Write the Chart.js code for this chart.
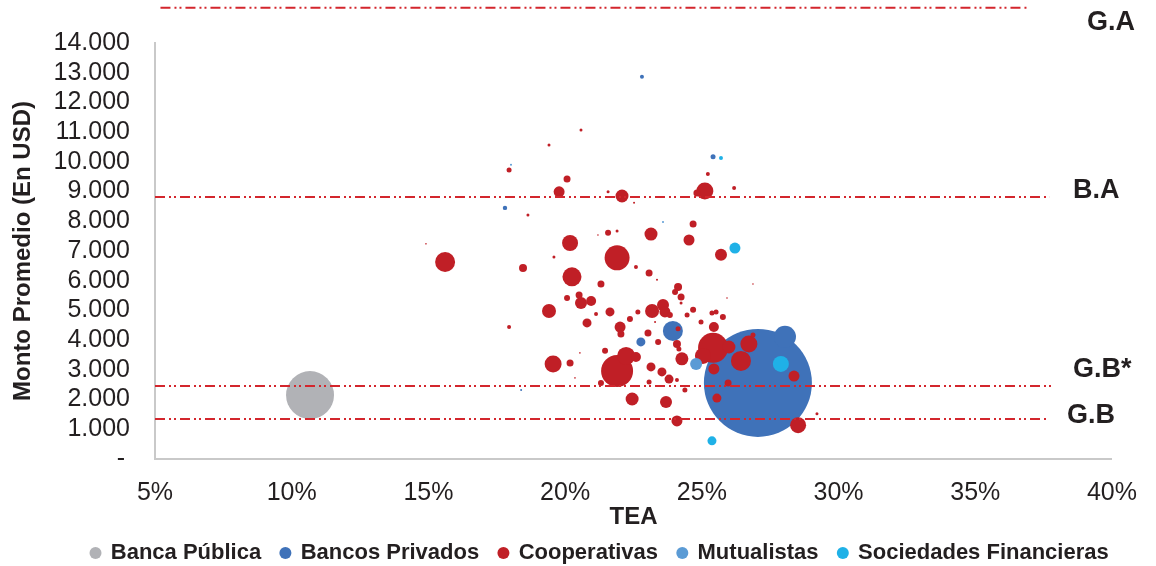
<!DOCTYPE html>
<html lang="es">
<head>
<meta charset="utf-8">
<title>TEA vs Monto Promedio</title>
<script src="https://cdn.jsdelivr.net/npm/chart.js@4.4.1/dist/chart.umd.min.js"></script>
<style>
  html, body { margin: 0; padding: 0; background: #ffffff; }
  #wrap { width: 1156px; height: 566px; }
</style>
</head>
<body>
<div id="wrap"><canvas id="grafico" width="1156" height="566"></canvas></div>
<script>
// Segmentos del sistema financiero
const segmentos = ['Banca Pública', 'Bancos Privados', 'Cooperativas', 'Mutualistas', 'Sociedades Financieras'];

// Banca Pública: TEA (%), monto promedio (USD), tamaño de burbuja
const publicaTEA   = [10.67];
const publicaMonto = [2150];
const publicaTam   = [24];

// Bancos Privados
const privadosTEA   = [27.05, 28.04, 23.94, 22.77, 22.81, 25.41, 17.80, 18.39];
const privadosMonto = [2560, 4110, 4310, 3940, 12860, 10170, 8450, 2320];
const privadosTam   = [54, 11, 10, 4.5, 2, 2.5, 2.2, 1];

// Cooperativas
const coopTEA = [
  20.58, 19.41, 17.95, 20.07, 19.78, 21.57, 22.08, 22.52, 18.64, 21.57,
  21.90, 21.20, 23.14, 20.18, 21.90, 19.59, 25.22, 25.11, 24.82, 26.18,
  24.68, 24.53, 25.70, 15.61, 14.91, 18.46, 20.25, 21.31, 22.59, 23.07,
  23.36, 20.07, 20.51, 20.58, 20.95, 19.41, 21.13, 21.64, 20.80, 17.95,
  22.01, 22.04, 22.37, 22.66, 23.18, 23.58, 23.65, 23.83, 24.13, 24.02,
  24.24, 24.24, 24.68, 24.46, 24.97, 25.37, 25.52, 25.77, 25.44, 23.03,
  23.40, 23.29, 21.46, 20.54, 19.56, 20.18, 21.90, 22.23, 22.59, 23.14,
  23.54, 23.80, 24.09, 21.31, 23.07, 22.45, 23.69, 24.38, 24.09, 24.27,
  24.13, 24.09, 24.16, 25.41, 25.04, 25.99, 26.72, 26.87, 26.43, 25.44,
  25.96, 25.55, 28.37, 28.52, 29.21, 26.87, 25.92, 20.36
];
const coopMonto = [
  11070, 10570, 9730, 9420, 8990, 8990, 8850, 8620, 8210, 7610,
  7670, 7540, 7570, 7270, 6770, 6800, 9590, 9020, 8950, 9120,
  7910, 7370, 6870, 6630, 7240, 6430, 6130, 5890, 6460, 6260,
  6030, 5420, 5520, 5250, 5320, 4980, 4880, 4950, 4580, 4440,
  4440, 4210, 4710, 4950, 4980, 5180, 4950, 4850, 5790, 5620,
  5450, 5250, 5020, 4850, 4610, 4910, 4950, 4780, 4440, 4240,
  3940, 4610, 3640, 3570, 3200, 3230, 2960, 3470, 3430, 3100,
  2930, 2690, 2660, 2560, 2590, 2020, 1920, 2320, 1280, 3370,
  4380, 3870, 3700, 3740, 3470, 3770, 3870, 4170, 3300, 3030,
  2560, 2050, 2790, 1140, 1520, 5890, 5420, 2730
];
const coopTam = [
  1.5, 1.5, 2.5, 3.5, 5.5, 1.5, 6.5, 1, 1.5, 3,
  1.5, 0.8, 6.5, 8, 12.5, 1.5, 2, 8.5, 3.5, 2,
  3.5, 5.5, 6, 10, 0.8, 4, 9.5, 3.5, 2, 3.5,
  1, 3, 3.5, 6, 5, 7, 2, 4.5, 4.5, 2,
  5.5, 3.5, 3, 2.5, 7, 6, 5.5, 3, 4, 3,
  3.5, 1.5, 3, 2.5, 2.5, 2.5, 2.5, 3, 5, 3.5,
  3, 1, 3, 0.8, 8.5, 3.5, 16, 9, 5, 4.5,
  4.5, 4.5, 2, 3, 2.5, 6.5, 6, 2.5, 5.5, 6.5,
  2.5, 4, 2.5, 15, 8, 6.5, 8.5, 2.5, 10, 5.5,
  3.5, 4.5, 5.5, 8, 1.5, 0.8, 0.8, 0.8
];

// Mutualistas
const mutualTEA   = [24.79, 18.02, 23.58];
const mutualMonto = [3200, 9900, 7980];
const mutualTam   = [6, 1, 1];

// Sociedades Financieras
const socTEA   = [27.89, 26.21, 25.37, 25.70];
const socMonto = [3200, 7100, 610, 10130];
const socTam   = [8, 5.5, 4.5, 2];

// Umbrales de monto (USD) con su tramo en TEA (%)
const umbralNombres = ['G.A', 'B.A', 'G.B*', 'G.B'];
const umbralMonto   = [15185, 8820, 2460, 1345];
const umbralDesde   = [5.2, 5, 5, 5];
const umbralHasta   = [36.9, 37.7, 37.8, 37.6];

// Ejes
const ejeX = { min: 5, max: 40, paso: 5 };
const ejeY = { min: 0, max: 14000, paso: 1000 };

// ---- estilo ----
const FUENTE = '"Liberation Sans", Arial, Helvetica, sans-serif';
const TEXTO = '#231f20';
const colores = ['#b1b2b6', '#3f72b9', '#c01f26', '#5b9bd5', '#1fb1e7'];
const colorUmbral = '#d3262d';
// ubicación de cada rótulo de umbral respecto al borde derecho del área y a su línea
const rotuloUmbral = [
  { dx: -25, dy: 15 },
  { dx: -39, dy: -6 },
  { dx: -39, dy: -16 },
  { dx: -45, dy: -3 }
];

Chart.defaults.font.family = FUENTE;
Chart.defaults.color = TEXTO;

const puntos = (xs, ys, rs) =>
  xs.map((x, i) => ({ x: x, y: ys[i], r: rs[i] })).sort((a, b) => b.r - a.r);

const series = [
  puntos(publicaTEA, publicaMonto, publicaTam),
  puntos(privadosTEA, privadosMonto, privadosTam),
  puntos(coopTEA, coopMonto, coopTam),
  puntos(mutualTEA, mutualMonto, mutualTam),
  puntos(socTEA, socMonto, socTam)
];
// orden de dibujo: Sociedades arriba, Banca Pública al fondo
const ordenDibujo = [5, 4, 3, 2, 1];

const burbujas = segmentos.map((nombre, i) => ({
  type: 'bubble',
  label: nombre,
  data: series[i],
  backgroundColor: colores[i],
  borderColor: colores[i],
  borderWidth: 0,
  hoverBorderWidth: 0,
  pointStyle: 'circle',
  order: ordenDibujo[i]
}));

const umbrales = umbralNombres.map((nombre, i) => ({
  type: 'line',
  label: nombre,
  data: [
    { x: umbralDesde[i], y: umbralMonto[i] },
    { x: umbralHasta[i], y: umbralMonto[i] }
  ],
  borderColor: colorUmbral,
  borderWidth: 2,
  borderDash: [10, 4, 2, 3, 2, 4],
  pointRadius: 0,
  fill: false,
  tension: 0,
  clip: false,
  order: 0
}));

const miles = v => String(v).replace(/\B(?=(\d{3})+(?!\d))/g, '.');

// Rótulos G.A / B.A / G.B* / G.B junto a cada línea
const rotulosUmbral = {
  id: 'rotulosUmbral',
  afterDatasetsDraw(chart) {
    const { ctx, chartArea, scales } = chart;
    ctx.save();
    ctx.font = 'bold 27px ' + FUENTE;
    ctx.fillStyle = TEXTO;
    ctx.textAlign = 'left';
    ctx.textBaseline = 'middle';
    umbralNombres.forEach((nombre, i) => {
      const p = rotuloUmbral[i];
      ctx.fillText(nombre, chartArea.right + p.dx, scales.y.getPixelForValue(umbralMonto[i]) + p.dy);
    });
    ctx.restore();
  }
};

// Centra la leyenda sobre todo el ancho del lienzo
const leyendaCentrada = {
  id: 'leyendaCentrada',
  afterLayout(chart) {
    const lg = chart.legend;
    if (!lg) return;
    const pad = chart.options.layout.padding;
    lg.left += pad.right;
    lg.right += pad.right;
  }
};

new Chart(document.getElementById('grafico'), {
  type: 'bubble',
  data: { datasets: burbujas.concat(umbrales) },
  plugins: [rotulosUmbral, leyendaCentrada],
  options: {
    responsive: false,
    animation: false,
    events: [],
    layout: { autoPadding: false, padding: { top: 43, right: 44, bottom: 0, left: 0 } },
    plugins: {
      tooltip: { enabled: false },
      legend: {
        position: 'bottom',
        maxHeight: 44,
        labels: {
          usePointStyle: true,
          boxWidth: 8.5,
          boxHeight: 8.5,
          padding: 20,
          color: TEXTO,
          font: { size: 22, weight: 'bold' },
          filter: item => item.datasetIndex < segmentos.length,
          sort: (a, b) => a.datasetIndex - b.datasetIndex
        }
      }
    },
    scales: {
      x: {
        type: 'linear',
        min: ejeX.min,
        max: ejeX.max,
        grid: { display: false, drawTicks: false },
        border: { display: true, color: '#c9c9c9', width: 2 },
        ticks: {
          stepSize: ejeX.paso,
          padding: 19,
          autoSkip: false,
          maxRotation: 0,
          color: TEXTO,
          font: { size: 25 },
          callback: v => v + '%'
        },
        title: {
          display: true,
          text: 'TEA',
          color: TEXTO,
          font: { size: 24, weight: 'bold', lineHeight: 0.42 },
          padding: { top: 5, bottom: 0 }
        },
        afterFit(s) { s.height = 63; }
      },
      y: {
        type: 'linear',
        min: ejeY.min,
        max: ejeY.max,
        grid: { display: false, drawTicks: false },
        border: { display: true, color: '#c9c9c9', width: 2 },
        ticks: {
          stepSize: ejeY.paso,
          padding: 25,
          autoSkip: false,
          color: TEXTO,
          font: { size: 25 },
          callback: v => (v === 0 ? '-\u2009' : miles(v))
        },
        title: {
          display: true,
          text: 'Monto Promedio (En USD)',
          color: TEXTO,
          font: { size: 24, weight: 'bold' },
          padding: { top: 9, bottom: 0 }
        },
        afterFit(s) { s.width = 155; }
      }
    }
  }
});
</script>
</body>
</html>
